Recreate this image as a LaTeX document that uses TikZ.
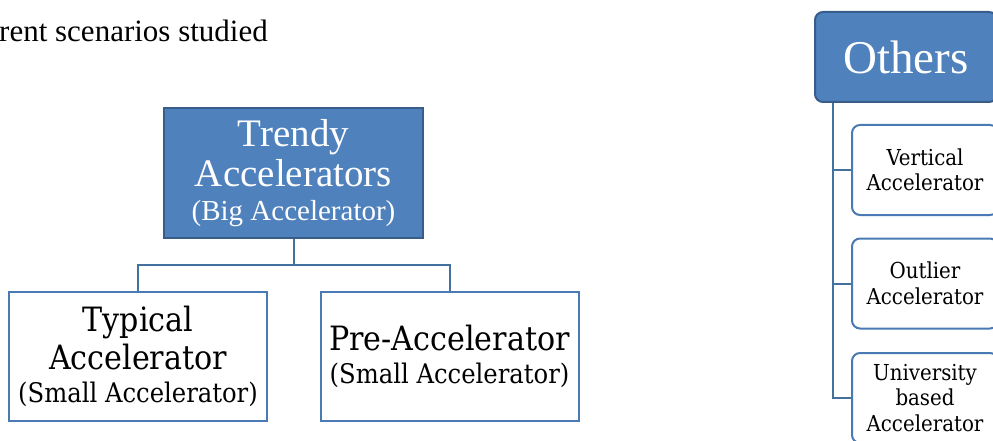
\documentclass[tikz,border=0pt]{standalone}
\usepackage{fontspec}
\setmainfont{Liberation Serif}
\newfontfamily\cambriaf{DejaVu Serif Condensed}
\definecolor{accfill}{HTML}{4F81BD}
\definecolor{accdark}{HTML}{385D8A}
\definecolor{accline}{HTML}{4A7AB3}
\definecolor{connline}{HTML}{41719C}
\tikzset{
  bigbox/.style={draw=accdark, line width=2pt, fill=accfill, text=white, align=center,
    minimum width=259pt, minimum height=130pt, inner sep=0pt},
  whitebox/.style={draw=accline, line width=2pt, fill=white, text=black, align=center,
    minimum width=258pt, minimum height=129pt, inner sep=0pt},
  headbox/.style={draw=accdark, line width=2pt, fill=accfill, text=white, align=center,
    rounded corners=8pt, minimum width=182pt, minimum height=90pt, inner sep=0pt},
  childbox/.style={draw=accline, line width=2pt, fill=white, text=black, align=center,
    rounded corners=8pt, minimum width=146pt, minimum height=90pt, inner sep=0pt,
    font=\cambriaf\fontsize{22}{25.5}\selectfont},
  conn/.style={draw=connline, line width=2pt}
}
\begin{document}
\begin{tikzpicture}[x=1pt,y=-1pt]
\useasboundingbox (0,0) rectangle (993,441);
\clip (0,0) rectangle (993,441);
\node[anchor=base east, font=\fontsize{31}{36}\selectfont, inner sep=0pt] (title) at (268,42) {rent scenarios studied};

\node[bigbox, font=\fontsize{39}{40}\selectfont] (trendy) at (293.5,173)
  {Trendy\\Accelerators\\[-6pt]{\fontsize{29}{34}\selectfont (Big Accelerator)}};
\node[whitebox, font=\cambriaf\fontsize{33.5}{38}\selectfont] (typical) at (138,356.5)
  {Typical\\Accelerator\\[-5pt]{\fontsize{27}{33}\selectfont (Small Accelerator)}};
\node[whitebox, font=\cambriaf\fontsize{33.5}{38}\selectfont] (pre) at (449.5,356.5)
  {Pre-Accelerator\\[-5pt]{\fontsize{27}{33}\selectfont (Small Accelerator)}};

\coordinate (bar) at (293.5,265);
\draw[conn] (trendy.south) -- (bar);
\draw[conn] (typical.north) |- (bar) -| (pre.north);

\node[headbox, font=\fontsize{47}{50}\selectfont] (others) at (906,57) {Others};
\node[childbox] (vert) at (925,170) {Vertical\\Accelerator};
\node[childbox] (outl) at (925,283.5) {Outlier\\Accelerator};
\node[childbox] (univ) at (925,398) {University\\based\\Accelerator};

\coordinate (spine) at (833,103);
\draw[conn] (spine) |- (vert.west);
\draw[conn] (spine) |- (outl.west);
\draw[conn] (spine) |- (univ.west);
\end{tikzpicture}
\end{document}
